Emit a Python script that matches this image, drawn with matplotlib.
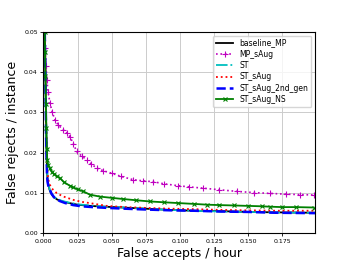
import numpy as np
import matplotlib
matplotlib.use("Agg")
import matplotlib.pyplot as plt

# DET-кривые: ложные допуски в час vs ложные отказы на экземпляр
base_x = [0.0010, 0.0015, 0.0020, 0.0026, 0.0030, 0.0035, 0.0045, 0.0055, 0.0072, 0.010,
          0.014, 0.019, 0.025, 0.034, 0.045, 0.058, 0.075, 0.093, 0.110, 0.130, 0.150, 0.170, 0.199]
base_y = [0.050, 0.040, 0.025, 0.016, 0.0135, 0.0124, 0.0108, 0.0100, 0.0091, 0.0084,
          0.0079, 0.0075, 0.0071, 0.0068, 0.0066, 0.0064, 0.0061, 0.0058, 0.0056, 0.0055, 0.0053, 0.0052, 0.0051]

mp_x = [0.0012, 0.0015, 0.0020, 0.0025, 0.0035, 0.0048, 0.0065, 0.0084, 0.011, 0.0145, 0.0175,
        0.0194, 0.022, 0.0243, 0.028, 0.0317, 0.035, 0.039, 0.044, 0.050, 0.057, 0.0658, 0.073,
        0.0805, 0.088, 0.0988, 0.107, 0.117, 0.129, 0.1416, 0.154, 0.166, 0.178, 0.188, 0.198]
mp_y = [0.050, 0.046, 0.0414, 0.038, 0.035, 0.0323, 0.030, 0.0282, 0.0268, 0.0257, 0.0248,
        0.0240, 0.0222, 0.0203, 0.0192, 0.0182, 0.0172, 0.0162, 0.0155, 0.0149, 0.0141, 0.0133, 0.0130,
        0.0128, 0.0123, 0.0118, 0.0115, 0.0112, 0.0108, 0.0104, 0.0101, 0.0099, 0.0097, 0.0096, 0.0095]

st_x = [0.0010, 0.0015, 0.0020, 0.0026, 0.0030, 0.0035, 0.0045, 0.0055, 0.0072, 0.010,
        0.014, 0.019, 0.025, 0.034, 0.045, 0.058, 0.075, 0.093, 0.110, 0.130, 0.150, 0.170, 0.199]
st_y = [0.050, 0.040, 0.026, 0.017, 0.0138, 0.0126, 0.0110, 0.0101, 0.0092, 0.0085,
        0.0080, 0.0076, 0.0072, 0.0069, 0.0066, 0.0064, 0.0061, 0.0058, 0.0056, 0.0054, 0.0053, 0.0052, 0.0051]

sa_x = [0.0010, 0.0015, 0.0020, 0.0026, 0.0030, 0.0035, 0.0045, 0.0060, 0.0080, 0.0097,
        0.014, 0.0218, 0.028, 0.034, 0.0463, 0.060, 0.075, 0.093, 0.110, 0.130, 0.150, 0.170, 0.199]
sa_y = [0.050, 0.042, 0.028, 0.0175, 0.0153, 0.0135, 0.0122, 0.0112, 0.0105, 0.0100,
        0.0092, 0.0083, 0.0078, 0.0075, 0.0068, 0.0065, 0.0063, 0.0061, 0.0060, 0.0058, 0.0057, 0.0056, 0.0056]

gen2_x = [0.0010, 0.0015, 0.0020, 0.0026, 0.0030, 0.0036, 0.0048, 0.0060, 0.0084, 0.012,
          0.016, 0.0218, 0.028, 0.036, 0.047, 0.060, 0.075, 0.093, 0.110, 0.130, 0.150, 0.170, 0.199]
gen2_y = [0.050, 0.038, 0.024, 0.015, 0.0128, 0.0118, 0.0108, 0.0098, 0.0087, 0.0080,
          0.0075, 0.0070, 0.0067, 0.0065, 0.0063, 0.0061, 0.0059, 0.0057, 0.0056, 0.0054, 0.0053, 0.0051, 0.0050]

ns_x = [0.0010, 0.0012, 0.0015, 0.0018, 0.0022, 0.0025, 0.0028, 0.0035, 0.0045, 0.006, 0.008,
        0.010, 0.0121, 0.015, 0.0194, 0.0218, 0.025, 0.0292, 0.034, 0.0414, 0.050, 0.0585, 0.068,
        0.078, 0.088, 0.0988, 0.110, 0.120, 0.129, 0.140, 0.150, 0.160, 0.166, 0.175, 0.185, 0.198]
ns_y = [0.050, 0.045, 0.039, 0.032, 0.026, 0.021, 0.0182, 0.0170, 0.0162, 0.0153, 0.0146,
        0.0141, 0.0137, 0.0127, 0.0118, 0.0114, 0.0109, 0.0104, 0.0096, 0.0091, 0.0088, 0.0085, 0.0082,
        0.0079, 0.0077, 0.0075, 0.0073, 0.0071, 0.0070, 0.0069, 0.0068, 0.0067, 0.0066, 0.0065, 0.0065, 0.0064]

fig = plt.figure(figsize=(3.5, 2.62), dpi=100)
ax = fig.add_axes([0.124, 0.1095, 0.776, 0.7695])

ax.plot(base_x, base_y, color="k", ls="-", lw=1.3, label="baseline_MP")
ax.plot(mp_x, mp_y, color="m", ls=":", lw=1.2, marker="+", ms=4, mew=0.8, label="MP_sAug")
ax.plot(st_x, st_y, color="c", ls="-.", lw=1.3, label="ST")
ax.plot(sa_x, sa_y, color="r", ls=":", lw=1.3, label="ST_sAug")
ax.plot(gen2_x, gen2_y, color="b", ls="--", lw=1.8, label="ST_sAug_2nd_gen")
ax.plot(ns_x, ns_y, color="g", ls="-", lw=1.3, marker="x", ms=3, mew=0.8, label="ST_sAug_NS")

ax.set_xlim(0, 0.199)
ax.set_ylim(0, 0.05)
ax.set_xticks(np.arange(0, 0.176, 0.025))
ax.set_yticks(np.arange(0, 0.051, 0.01))
ax.tick_params(labelsize=4.5, length=2, width=0.6, pad=2)
ax.grid(True, color="#cccccc", lw=0.7)
ax.set_xlabel("False accepts / hour", fontsize=9, labelpad=2)
ax.set_ylabel("False rejects / instance", fontsize=9, labelpad=4)
ax.legend(loc="upper right", fontsize=5.5, handlelength=2.2, labelspacing=0.3)

fig.savefig("out.png", dpi=100)
